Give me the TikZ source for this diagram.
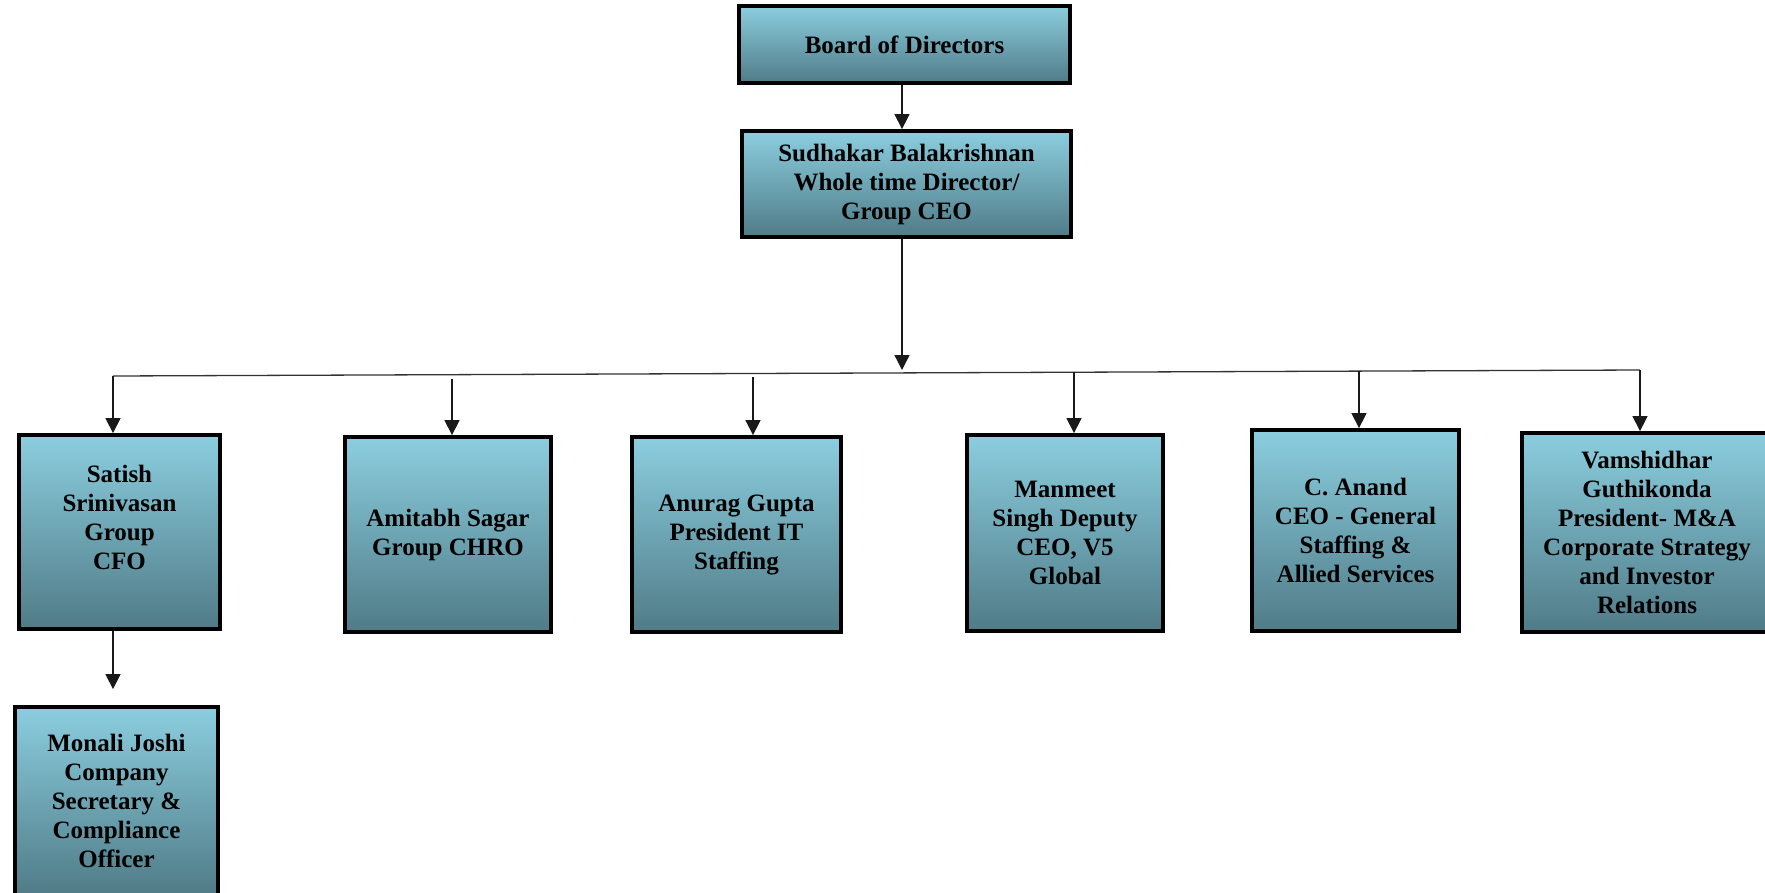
\documentclass[tikz,border=0pt]{standalone}
\usepackage{fontspec}
\setmainfont{Liberation Serif}
\usetikzlibrary{arrows.meta}
\definecolor{boxtop}{RGB}{139,206,223}
\definecolor{boxbot}{RGB}{80,123,135}
\tikzset{post/.style={draw=black,line width=3.8pt,top color=boxtop,bottom color=boxbot,align=center,
 font=\fontsize{25}{29}\selectfont\bfseries,inner sep=0pt},
 arr/.style={-{Triangle[length=15pt,width=15pt]},line width=1.3pt,draw=black!90},
 bus/.style={line width=1.3pt,draw=black!80}}

\begin{document}
\begin{tikzpicture}[x=1pt,y=-1pt]
\useasboundingbox (0,0) rectangle (1765,892);
\clip (0,0) rectangle (1765,892);
\node[post,minimum width=331pt,minimum height=77pt] (bd) at (904.5,44.5) {Board of Directors};
\node[post,minimum width=329pt,minimum height=106pt] (ceo) at (906.5,184) {Sudhakar Balakrishnan\\Whole time Director/\\Group CEO};
\node[post,minimum width=201pt,minimum height=194pt] (cfo) at (119.5,532) {Satish\\Srinivasan\\Group\\CFO\\\mbox{}};
\node[post,minimum width=206pt,minimum height=195pt] (chro) at (448,534.5) {Amitabh Sagar\\Group CHRO};
\node[post,minimum width=209pt,minimum height=195pt] (it) at (736.5,534.5) {Anurag Gupta\\President IT\\Staffing};
\node[post,minimum width=196pt,minimum height=196pt] (v5) at (1065,533) {Manmeet\\Singh Deputy\\CEO, V5\\Global};
\node[post,minimum width=207pt,minimum height=201pt] (gs) at (1355.5,530.5) {C. Anand\\CEO - General\\Staffing \&\\Allied Services};
\node[post,minimum width=250pt,minimum height=199pt] (ma) at (1647,532.5) {Vamshidhar\\Guthikonda\\President- M\&A\\Corporate Strategy\\and Investor\\Relations};
\node[post,minimum width=203pt,minimum height=188pt] (cs) at (116.5,801) {Monali Joshi\\Company\\Secretary \&\\Compliance\\Officer};
\coordinate (hub) at (902,372);
\coordinate (busL) at (113,376);
\coordinate (busR) at (1640,370);
\coordinate (d2) at (452,379);
\coordinate (d3) at (753,377);
\coordinate (d4) at (1074,372);
\coordinate (d5) at (1359,371);
\draw[arr] (bd.south -| hub) -- (ceo.north -| hub);
\draw[arr] (ceo.south -| hub) -- ([yshift=2pt]hub);
\draw[bus] (busL) -- (busR);
\draw[arr] (busL) -- (cfo.north -| busL);
\draw[arr] (d2) -- (chro.north -| d2);
\draw[arr] (d3) -- (it.north -| d3);
\draw[arr] (d4) -- (v5.north -| d4);
\draw[arr] (d5) -- (gs.north -| d5);
\draw[arr] (busR) -- (ma.north -| busR);
\draw[arr] (cfo.south -| busL) -- ([yshift=16pt]cs.north -| busL);
\end{tikzpicture}
\end{document}
